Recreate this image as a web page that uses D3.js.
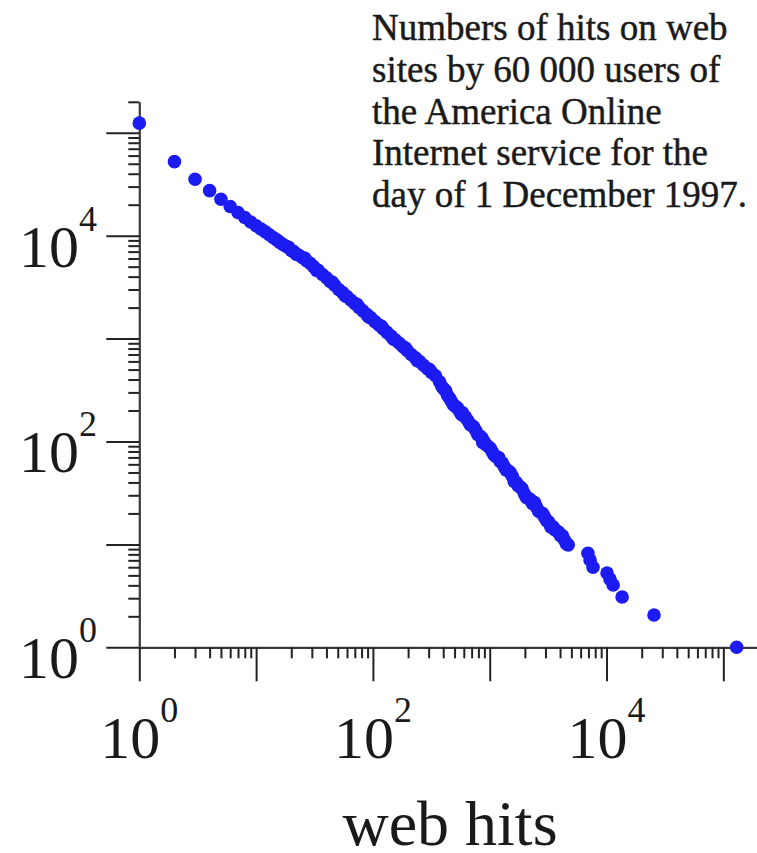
<!DOCTYPE html>
<html>
<head>
<meta charset="utf-8">
<script src="https://cdn.jsdelivr.net/npm/d3@7"></script>
<style>
  html, body { margin: 0; padding: 0; background: #fff; }
  svg { display: block; }
</style>
</head>
<body>
<svg id="chart" width="757" height="853"></svg>
<script>
// Number of hits a site received (x) and how many sites received that many hits (y)
const webHits = [
  1, 2, 3, 4, 5, 6, 7, 8, 9, 10,
  11, 12, 13, 14, 15, 16, 17, 18, 20, 21,
  23, 25, 27, 29, 31, 34, 37, 40, 43, 47,
  51, 55, 60, 65, 70, 76, 82, 89, 96, 104,
  113, 122, 132, 143, 155, 168, 182, 197, 213, 231,
  250, 271, 293, 317, 343, 372, 403, 436, 472, 511,
  553, 585, 599, 649, 703, 761, 824, 870, 893, 967,
  1047, 1134, 1190, 1228, 1330, 1440, 1560, 1620, 1690, 1830,
  1980, 2145, 2320, 2420, 2515, 2720, 2950, 3190, 3330, 3460,
  3745, 4055, 4200, 4390, 4700, 6930, 7230, 7660, 10100, 10700,
  11400, 13600, 25500, 130000,
  19, 22, 26, 33, 45, 58, 73, 92, 118, 150,
  190, 240, 305, 390, 420, 455, 490, 530, 570, 620,
  680, 730, 790, 860, 930, 1010, 1090, 1280, 1380, 1500,
  1760, 1900, 2060, 2230, 2620, 2840, 3070, 3600, 3900, 4550
];
const siteCounts = [
  124000, 52400, 35300, 27400, 22600, 19200, 16800, 15000, 13600, 12500,
  11600, 10900, 10200, 9600, 9100, 8600, 8200, 7900, 7200, 7000,
  6500, 6100, 5700, 5400, 5000, 4600, 4200, 3900, 3600, 3300,
  3000, 2800, 2560, 2360, 2190, 2010, 1860, 1710, 1590, 1460,
  1350, 1250, 1150, 1060, 975, 900, 830, 765, 700, 650,
  600, 550, 510, 470, 435, 380, 325, 280, 243, 219,
  197, 190, 177, 160, 143, 127, 113, 98, 100, 90,
  80, 71, 70, 64, 57, 52, 46, 41, 40, 36,
  31, 28, 25, 25.5, 23, 20.5, 18.4, 16.6, 14.8, 14.9,
  13.5, 12.1, 12.1, 10.9, 9.9, 8.2, 7.05, 6.0, 5.27, 4.6,
  4.03, 3.08, 2.06, 1,
  7700, 6600, 6050, 4600, 3520, 2600, 2150, 1620, 1320, 985,
  810, 610, 500, 340, 310, 262, 226, 212, 184, 173,
  146, 138, 117, 108, 93, 86, 74, 62, 53, 50,
  37, 34.5, 28.6, 27.2, 21, 19.9, 17.0, 14.0, 13.1, 10.1
];

// Decades that carry a "10^n" label on both axes
const labelledExponents = [0, 2, 4];
const axisMax = 2e5;

const captionLines = [
  "Numbers of hits on web",
  "sites by 60 000 users of",
  "the America Online",
  "Internet service for the",
  "day of 1 December 1997."
];
const xAxisTitle = "web hits";

const serif = "'Liberation Serif', 'Times New Roman', Times, serif";
const dotColor = "#1c1cf2";
const inkColor = "#1a1a1a";

const svg = d3.select("#chart");

const x = d3.scaleLog().domain([1, axisMax]).range([139.3, 758.5]);
const y = d3.scaleLog().domain([1, axisMax]).range([647.3, 101.8]);

const isDecade = v => Math.abs(Math.log10(v) - Math.round(Math.log10(v))) < 1e-9;
const xAll = x.ticks();
const yAll = y.ticks();
const xMajor = xAll.filter(isDecade), xMinor = xAll.filter(v => !isDecade(v));
const yMajor = yAll.filter(isDecade), yMinor = yAll.filter(v => !isDecade(v));

const xAxisY = y(1);
const yAxisX = x(1);

function styleAxis(g, drawDomain) {
  g.select(".domain")
    .attr("stroke", drawDomain ? "#3a3a3a" : "none")
    .attr("stroke-width", 2.2);
  g.selectAll(".tick line").attr("stroke", "#222").attr("stroke-width", 2);
  g.selectAll(".tick text").remove();
}

// x axis: minor ticks, then long decade ticks
svg.append("g")
  .attr("transform", `translate(0,${xAxisY})`)
  .call(d3.axisBottom(x).tickValues(xMinor).tickSize(11).tickSizeOuter(0).tickFormat(""))
  .call(g => styleAxis(g, true));
svg.append("g")
  .attr("transform", `translate(0,${xAxisY})`)
  .call(d3.axisBottom(x).tickValues(xMajor).tickSize(34).tickSizeOuter(0).tickFormat(""))
  .call(g => styleAxis(g, false));

// y axis
svg.append("g")
  .attr("transform", `translate(${yAxisX},0)`)
  .call(d3.axisLeft(y).tickValues(yMinor).tickSize(11).tickSizeOuter(0).tickFormat(""))
  .call(g => styleAxis(g, true));
svg.append("g")
  .attr("transform", `translate(${yAxisX},0)`)
  .call(d3.axisLeft(y).tickValues(yMajor).tickSize(33).tickSizeOuter(0).tickFormat(""))
  .call(g => styleAxis(g, false));

// "10^n" labels built from a base and a raised exponent
function powerLabel(sel, exponent) {
  sel.append("tspan").attr("font-size", 60).text("10");
  sel.append("tspan").attr("font-size", 36).attr("dy", -36).text(String(exponent));
}

labelledExponents.forEach(e => {
  const v = Math.pow(10, e);
  svg.append("text")
    .attr("x", x(v))
    .attr("y", 758)
    .attr("text-anchor", "middle")
    .attr("font-family", serif)
    .attr("fill", inkColor)
    .call(t => powerLabel(t, e));
  svg.append("text")
    .attr("x", 97)
    .attr("y", y(v) + 31)
    .attr("text-anchor", "end")
    .attr("font-family", serif)
    .attr("fill", inkColor)
    .call(t => powerLabel(t, e));
});

// axis title
svg.append("text")
  .attr("x", 450)
  .attr("y", 845)
  .attr("text-anchor", "middle")
  .attr("font-family", serif)
  .attr("font-size", 64)
  .attr("fill", inkColor)
  .text(xAxisTitle);

// caption block in the upper right
svg.append("text")
  .attr("font-family", serif)
  .attr("font-size", 37)
  .attr("fill", inkColor)
  .attr("stroke", inkColor)
  .attr("stroke-width", 0.45)
  .selectAll("tspan")
  .data(captionLines)
  .join("tspan")
  .attr("x", 372)
  .attr("y", (d, i) => 40 + i * 41.75)
  .text(d => d);

// data points
const points = webHits.map((h, i) => ({ hits: h, sites: siteCounts[i] }));
svg.append("g")
  .selectAll("circle")
  .data(points)
  .join("circle")
  .attr("cx", d => x(d.hits))
  .attr("cy", d => y(d.sites))
  .attr("r", 6.8)
  .attr("fill", dotColor);
</script>
</body>
</html>
